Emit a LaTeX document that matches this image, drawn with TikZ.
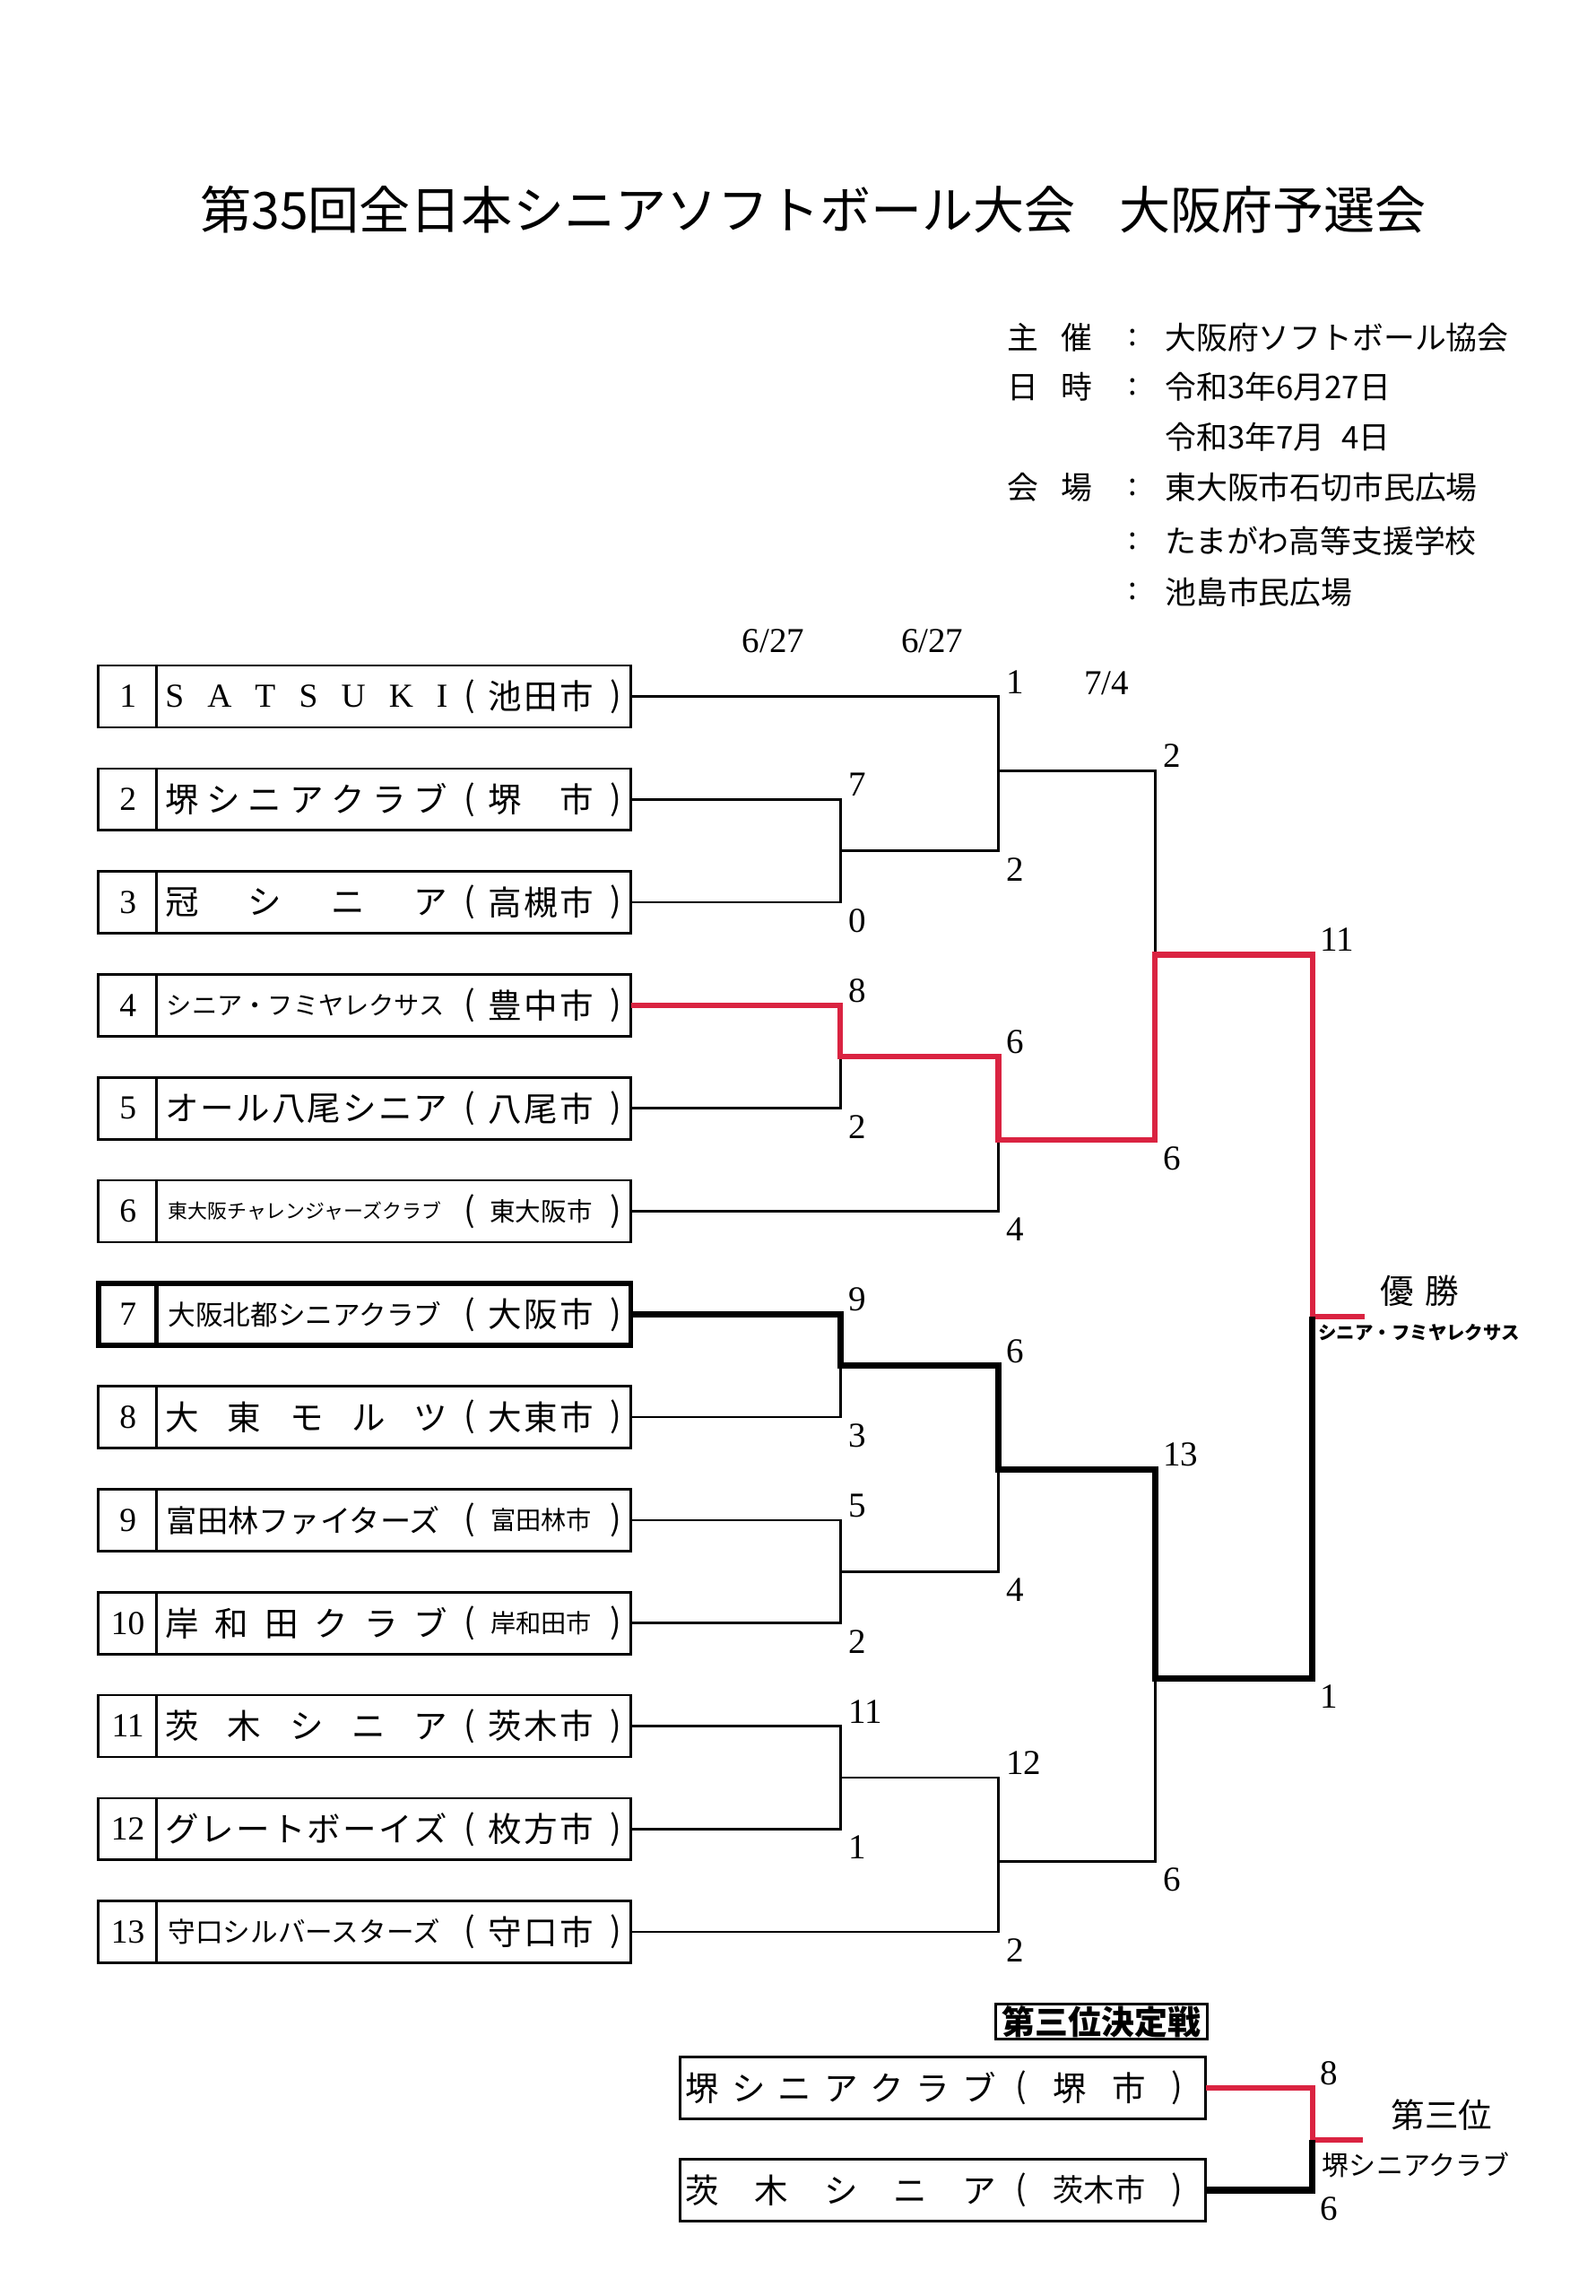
\documentclass[tikz,border=0pt]{standalone}
\usepackage{fontspec}
\usepackage{tikz}
\setmainfont{Liberation Serif}
\newfontfamily\jp{Noto Sans CJK JP}
\definecolor{winred}{RGB}{218,35,65}
\newcommand{\spreadname}[1]{\makebox[3.69cm][s]{#1}}
\newcommand{\spreadcity}[1]{\makebox[1.38cm][s]{#1}}
\newcommand{\spreadthird}[1]{\makebox[4.05cm][s]{#1}}
\newcommand{\thirdcity}[1]{\makebox[1.21cm][s]{#1}}

\begin{document}
\begin{tikzpicture}[x=0.0192cm, y=-0.0192cm,
    teambox/.style={draw, line width=0.9pt, minimum width=6.95cm, minimum height=0.806cm, inner sep=0pt, outer sep=0pt},
    seedbox/.style={teambox, line width=1.9pt},
    thirdbox/.style={draw, line width=1pt, minimum width=6.864cm, minimum height=0.816cm, inner sep=0pt, outer sep=0pt},
    numtext/.style={font=\fontsize{12.5}{14}\selectfont, inner sep=0pt},
    jtext/.style={font=\jp\fontsize{12.5}{14}\selectfont, inner sep=0pt},
    nametext/.style={jtext, anchor=west},
    infotext/.style={font=\jp\fontsize{11.6}{13}\selectfont, inner sep=0pt, anchor=west},
    score/.style={font=\fontsize{13}{14}\selectfont, inner sep=0pt, anchor=west},
    datetext/.style={font=\fontsize{13}{14}\selectfont, inner sep=0pt},
    bracket/.style={line width=0.9pt},
    winner/.style={line width=2.1pt, draw=winred},
    runner/.style={line width=2.4pt}]
    \fill[white] (0,0) rectangle (1085,1561);
    \useasboundingbox (0,0) rectangle (1085,1561);

\node[font=\jp\fontsize{19}{22}\selectfont, inner sep=0pt] (title) at (553,142.3) {第35回全日本シニアソフトボール大会\hspace{0.85em}大阪府予選会}; % Title

\node[infotext] (k1) at (685,229.7) {主\hspace{0.7em}催}; % Info.1
\node[infotext] (c1) at (767,229.7) {:}; % Info.1
\node[infotext] (v1) at (792,229.7) {大阪府ソフトボール協会}; % Info.1
\node[infotext] (k2) at (685,263.2) {日\hspace{0.7em}時}; % Info.2
\node[infotext] (c2) at (767,263.2) {:}; % Info.2
\node[infotext] (v2) at (792,263.2) {令和3年6月27日}; % Info.2
\node[infotext] (v3) at (792,296.8) {令和3年7月\hspace{0.55em}4日}; % Info.3
\node[infotext] (k4) at (685,331.3) {会\hspace{0.7em}場}; % Info.4
\node[infotext] (c4) at (767,331.3) {:}; % Info.4
\node[infotext] (v4) at (792,331.3) {東大阪市石切市民広場}; % Info.4
\node[infotext] (c5) at (767,367.9) {:}; % Info.5
\node[infotext] (v5) at (792,367.9) {たまがわ高等支援学校}; % Info.5
\node[infotext] (c6) at (767,402.4) {:}; % Info.6
\node[infotext] (v6) at (792,402.4) {池島市民広場}; % Info.6

\node[datetext] (d1) at (526,436) {6/27}; % Round.1
\node[datetext] (d2) at (634,436) {6/27}; % Round.2
\node[datetext] (d3) at (752.5,464.6) {7/4}; % Round.3

\node[teambox] (t1) at (248,473.5) {}; % Team.1
\draw[line width=0.9pt] ([xshift=0.758cm]t1.north west) -- ([xshift=0.758cm]t1.south west); % Team.1
\node[numtext] (n1) at (87,473.5) {1}; % Team.1
\node[nametext] (a1) at (112,473.5) {\spreadname{\rmfamily S\hfill A\hfill T\hfill S\hfill U\hfill K\hfill I}}; % Team.1
\node[jtext] (l1) at (319.5,473.5) {(}; % Team.1
\node[jtext] (m1) at (368,473.5) {\spreadcity{池\hfill 田\hfill 市}}; % Team.1
\node[jtext] (r1) at (419,473.5) {)}; % Team.1

\node[teambox] (t2) at (248,543.5) {}; % Team.2
\draw[line width=0.9pt] ([xshift=0.758cm]t2.north west) -- ([xshift=0.758cm]t2.south west); % Team.2
\node[numtext] (n2) at (87,543.5) {2}; % Team.2
\node[nametext] (a2) at (112,543.5) {\spreadname{堺\hfill シ\hfill ニ\hfill ア\hfill ク\hfill ラ\hfill ブ}}; % Team.2
\node[jtext] (l2) at (319.5,543.5) {(}; % Team.2
\node[jtext] (m2) at (368,543.5) {\spreadcity{堺\hfill 市}}; % Team.2
\node[jtext] (r2) at (419,543.5) {)}; % Team.2

\node[teambox] (t3) at (248,613.5) {}; % Team.3
\draw[line width=0.9pt] ([xshift=0.758cm]t3.north west) -- ([xshift=0.758cm]t3.south west); % Team.3
\node[numtext] (n3) at (87,613.5) {3}; % Team.3
\node[nametext] (a3) at (112,613.5) {\spreadname{冠\hfill シ\hfill ニ\hfill ア}}; % Team.3
\node[jtext] (l3) at (319.5,613.5) {(}; % Team.3
\node[jtext] (m3) at (368,613.5) {\spreadcity{高\hfill 槻\hfill 市}}; % Team.3
\node[jtext] (r3) at (419,613.5) {)}; % Team.3

\node[teambox] (t4) at (248,683.5) {}; % Team.4
\draw[line width=0.9pt] ([xshift=0.758cm]t4.north west) -- ([xshift=0.758cm]t4.south west); % Team.4
\node[numtext] (n4) at (87,683.5) {4}; % Team.4
\node[nametext] (a4) at (113,683.5) {\fontsize{9.4}{10}\selectfont シニア・フミヤレクサス}; % Team.4
\node[jtext] (l4) at (319.5,683.5) {(}; % Team.4
\node[jtext] (m4) at (368,683.5) {\spreadcity{豊\hfill 中\hfill 市}}; % Team.4
\node[jtext] (r4) at (419,683.5) {)}; % Team.4

\node[teambox] (t5) at (248,753.5) {}; % Team.5
\draw[line width=0.9pt] ([xshift=0.758cm]t5.north west) -- ([xshift=0.758cm]t5.south west); % Team.5
\node[numtext] (n5) at (87,753.5) {5}; % Team.5
\node[nametext] (a5) at (112,753.5) {\spreadname{オ\hfill ー\hfill ル\hfill 八\hfill 尾\hfill シ\hfill ニ\hfill ア}}; % Team.5
\node[jtext] (l5) at (319.5,753.5) {(}; % Team.5
\node[jtext] (m5) at (368,753.5) {\spreadcity{八\hfill 尾\hfill 市}}; % Team.5
\node[jtext] (r5) at (419,753.5) {)}; % Team.5

\node[teambox] (t6) at (248,823.5) {}; % Team.6
\draw[line width=0.9pt] ([xshift=0.758cm]t6.north west) -- ([xshift=0.758cm]t6.south west); % Team.6
\node[numtext] (n6) at (87,823.5) {6}; % Team.6
\node[nametext] (a6) at (114,823.5) {\fontsize{7.3}{8}\selectfont 東大阪チャレンジャーズクラブ}; % Team.6
\node[jtext] (l6) at (319.5,823.5) {(}; % Team.6
\node[jtext] (m6) at (368,823.5) {\fontsize{9.5}{10}\selectfont 東大阪市}; % Team.6
\node[jtext] (r6) at (419,823.5) {)}; % Team.6

\node[seedbox] (t7) at (248,893.5) {}; % Team.7
\draw[line width=1.9pt] ([xshift=0.758cm]t7.north west) -- ([xshift=0.758cm]t7.south west); % Team.7
\node[numtext] (n7) at (87,893.5) {7}; % Team.7
\node[nametext] (a7) at (114,893.5) {\fontsize{10.2}{11}\selectfont 大阪北都シニアクラブ}; % Team.7
\node[jtext] (l7) at (319.5,893.5) {(}; % Team.7
\node[jtext] (m7) at (368,893.5) {\spreadcity{大\hfill 阪\hfill 市}}; % Team.7
\node[jtext] (r7) at (419,893.5) {)}; % Team.7

\node[teambox] (t8) at (248,963.5) {}; % Team.8
\draw[line width=0.9pt] ([xshift=0.758cm]t8.north west) -- ([xshift=0.758cm]t8.south west); % Team.8
\node[numtext] (n8) at (87,963.5) {8}; % Team.8
\node[nametext] (a8) at (112,963.5) {\spreadname{大\hfill 東\hfill モ\hfill ル\hfill ツ}}; % Team.8
\node[jtext] (l8) at (319.5,963.5) {(}; % Team.8
\node[jtext] (m8) at (368,963.5) {\spreadcity{大\hfill 東\hfill 市}}; % Team.8
\node[jtext] (r8) at (419,963.5) {)}; % Team.8

\node[teambox] (t9) at (248,1033.5) {}; % Team.9
\draw[line width=0.9pt] ([xshift=0.758cm]t9.north west) -- ([xshift=0.758cm]t9.south west); % Team.9
\node[numtext] (n9) at (87,1033.5) {9}; % Team.9
\node[nametext] (a9) at (113,1033.5) {\fontsize{11.4}{12}\selectfont 富田林ファイターズ}; % Team.9
\node[jtext] (l9) at (319.5,1033.5) {(}; % Team.9
\node[jtext] (m9) at (368,1033.5) {\fontsize{9.4}{10}\selectfont 富田林市}; % Team.9
\node[jtext] (r9) at (419,1033.5) {)}; % Team.9

\node[teambox] (t10) at (248,1103.5) {}; % Team.10
\draw[line width=0.9pt] ([xshift=0.758cm]t10.north west) -- ([xshift=0.758cm]t10.south west); % Team.10
\node[numtext] (n10) at (87,1103.5) {10}; % Team.10
\node[nametext] (a10) at (112,1103.5) {\spreadname{岸\hfill 和\hfill 田\hfill ク\hfill ラ\hfill ブ}}; % Team.10
\node[jtext] (l10) at (319.5,1103.5) {(}; % Team.10
\node[jtext] (m10) at (368,1103.5) {\fontsize{9.4}{10}\selectfont 岸和田市}; % Team.10
\node[jtext] (r10) at (419,1103.5) {)}; % Team.10

\node[teambox] (t11) at (248,1173.5) {}; % Team.11
\draw[line width=0.9pt] ([xshift=0.758cm]t11.north west) -- ([xshift=0.758cm]t11.south west); % Team.11
\node[numtext] (n11) at (87,1173.5) {11}; % Team.11
\node[nametext] (a11) at (112,1173.5) {\spreadname{茨\hfill 木\hfill シ\hfill ニ\hfill ア}}; % Team.11
\node[jtext] (l11) at (319.5,1173.5) {(}; % Team.11
\node[jtext] (m11) at (368,1173.5) {\spreadcity{茨\hfill 木\hfill 市}}; % Team.11
\node[jtext] (r11) at (419,1173.5) {)}; % Team.11

\node[teambox] (t12) at (248,1243.5) {}; % Team.12
\draw[line width=0.9pt] ([xshift=0.758cm]t12.north west) -- ([xshift=0.758cm]t12.south west); % Team.12
\node[numtext] (n12) at (87,1243.5) {12}; % Team.12
\node[nametext] (a12) at (112,1243.5) {\spreadname{グ\hfill レ\hfill ー\hfill ト\hfill ボ\hfill ー\hfill イ\hfill ズ}}; % Team.12
\node[jtext] (l12) at (319.5,1243.5) {(}; % Team.12
\node[jtext] (m12) at (368,1243.5) {\spreadcity{枚\hfill 方\hfill 市}}; % Team.12
\node[jtext] (r12) at (419,1243.5) {)}; % Team.12

\node[teambox] (t13) at (248,1313.5) {}; % Team.13
\draw[line width=0.9pt] ([xshift=0.758cm]t13.north west) -- ([xshift=0.758cm]t13.south west); % Team.13
\node[numtext] (n13) at (87,1313.5) {13}; % Team.13
\node[nametext] (a13) at (114,1313.5) {\fontsize{10.2}{11}\selectfont 守口シルバースターズ}; % Team.13
\node[jtext] (l13) at (319.5,1313.5) {(}; % Team.13
\node[jtext] (m13) at (368,1313.5) {\spreadcity{守\hfill 口\hfill 市}}; % Team.13
\node[jtext] (r13) at (419,1313.5) {)}; % Team.13

\coordinate (w1) at (571.5,578.5); % Match.1
\coordinate (w2) at (571.5,718.5); % Match.2
\coordinate (w3) at (571.5,928.5); % Match.3
\coordinate (w4) at (571.5,1068.5); % Match.4
\coordinate (w5) at (571.5,1208.5); % Match.5
\coordinate (w6) at (679,524); % Match.6
\coordinate (w7) at (679,775); % Match.7
\coordinate (w8) at (679,999); % Match.8
\coordinate (w9) at (679,1265.5); % Match.9
\coordinate (w10) at (785.5,649); % Match.10
\coordinate (w11) at (785.5,1141); % Match.11
\coordinate (w12) at (892.5,895); % Final
\coordinate (champ) at (928,895); % Final

\draw[bracket] (t2.east) -| (w1) |- (t3.east); % Match.1
\draw[bracket] (t4.east) -| (w2) |- (t5.east); % Match.2
\draw[bracket] (t7.east) -| (w3) |- (t8.east); % Match.3
\draw[bracket] (t9.east) -| (w4) |- (t10.east); % Match.4
\draw[bracket] (t11.east) -| (w5) |- (t12.east); % Match.5
\draw[bracket] (t1.east) -| (w6) |- (w1); % Match.6
\draw[bracket] (w2) -| (w7) |- (t6.east); % Match.7
\draw[bracket] (w3) -| (w8) |- (w4); % Match.8
\draw[bracket] (w5) -| (w9) |- (t13.east); % Match.9
\draw[bracket] (w6) -| (w10) |- (w7); % Match.10
\draw[bracket] (w8) -| (w11) |- (w9); % Match.11
\draw[winner] (t4.east) -| (w2) -| (w7) -| (w10) -| (w12) -- (champ); % Champion
\draw[runner] (t7.east) -| (w3) -| (w8) -| (w11) -| (w12); % RunnerUp

\node[score] (s1t) at (576.5,533.5) {7}; % Match.1
\node[score] (s1b) at (576.5,626) {0}; % Match.1
\node[score] (s2t) at (576.5,673.5) {8}; % Match.2
\node[score] (s2b) at (576.5,766) {2}; % Match.2
\node[score] (s3t) at (576.5,883.5) {9}; % Match.3
\node[score] (s3b) at (576.5,976) {3}; % Match.3
\node[score] (s4t) at (576.5,1023.5) {5}; % Match.4
\node[score] (s4b) at (576.5,1116) {2}; % Match.4
\node[score] (s5t) at (576.5,1163.5) {11}; % Match.5
\node[score] (s5b) at (576.5,1256) {1}; % Match.5
\node[score] (s6t) at (684,463.5) {1}; % Match.6
\node[score] (s6b) at (684,591) {2}; % Match.6
\node[score] (s7t) at (684,708.5) {6}; % Match.7
\node[score] (s7b) at (684,836) {4}; % Match.7
\node[score] (s8t) at (684,918.5) {6}; % Match.8
\node[score] (s8b) at (684,1081) {4}; % Match.8
\node[score] (s9t) at (684,1198.5) {12}; % Match.9
\node[score] (s9b) at (684,1326) {2}; % Match.9
\node[score] (s10t) at (790.5,514) {2}; % Match.10
\node[score] (s10b) at (790.5,787.5) {6}; % Match.10
\node[score] (s11t) at (790.5,989) {13}; % Match.11
\node[score] (s11b) at (790.5,1278) {6}; % Match.11
\node[score] (s12t) at (897.5,639) {11}; % Final
\node[score] (s12b) at (897.5,1153.5) {1}; % Final

\node[jtext] (win) at (965.5,877.6) {優\hspace{0.35em}勝}; % Final
\node[font=\jp\bfseries\fontsize{6.8}{8}\selectfont, inner sep=0pt] (winname) at (965,905.7) {シニア・フミヤレクサス}; % Final

\node[draw, line width=1.1pt, font=\jp\bfseries\fontsize{12.3}{13}\selectfont, inner sep=0.6pt, minimum width=2.765cm, minimum height=0.44cm] (thirdtitle) at (749,1374.5) {第三位決定戦}; % Third

\node[thirdbox] (p1) at (641.25,1419.5) {}; % Third.1
\node[nametext] (pa1) at (466,1419.5) {\spreadthird{堺\hfill シ\hfill ニ\hfill ア\hfill ク\hfill ラ\hfill ブ}}; % Third.1
\node[jtext] (pl1) at (694.5,1419.5) {(}; % Third.1
\node[jtext] (pm1) at (747.5,1419.5) {\thirdcity{堺\hfill 市}}; % Third.1
\node[jtext] (pr1) at (800.5,1419.5) {)}; % Third.1

\node[thirdbox] (p2) at (641.25,1489) {}; % Third.2
\node[nametext] (pa2) at (466,1489) {\spreadthird{茨\hfill 木\hfill シ\hfill ニ\hfill ア}}; % Third.2
\node[jtext] (pl2) at (694.5,1489) {(}; % Third.2
\node[jtext] (pm2) at (747.5,1489) {\fontsize{11.4}{12}\selectfont 茨木市}; % Third.2
\node[jtext] (pr2) at (800.5,1489) {)}; % Third.2

\coordinate (w13) at (892.5,1455); % Third
\coordinate (third) at (927,1455); % Third
\draw[winner] (p1.east) -| (w13) -- (third); % Third
\draw[runner] (p2.east) -| (w13); % Third
\node[score] (s13t) at (897.5,1409.5) {8}; % Third
\node[score] (s13b) at (897.5,1501.5) {6}; % Third

\node[jtext] (thirdlabel) at (980.5,1438) {第三位}; % Third
\node[font=\jp\fontsize{10}{11}\selectfont, inner sep=0pt] (thirdname) at (963,1471.6) {堺シニアクラブ}; % Third

\end{tikzpicture}
\end{document}
